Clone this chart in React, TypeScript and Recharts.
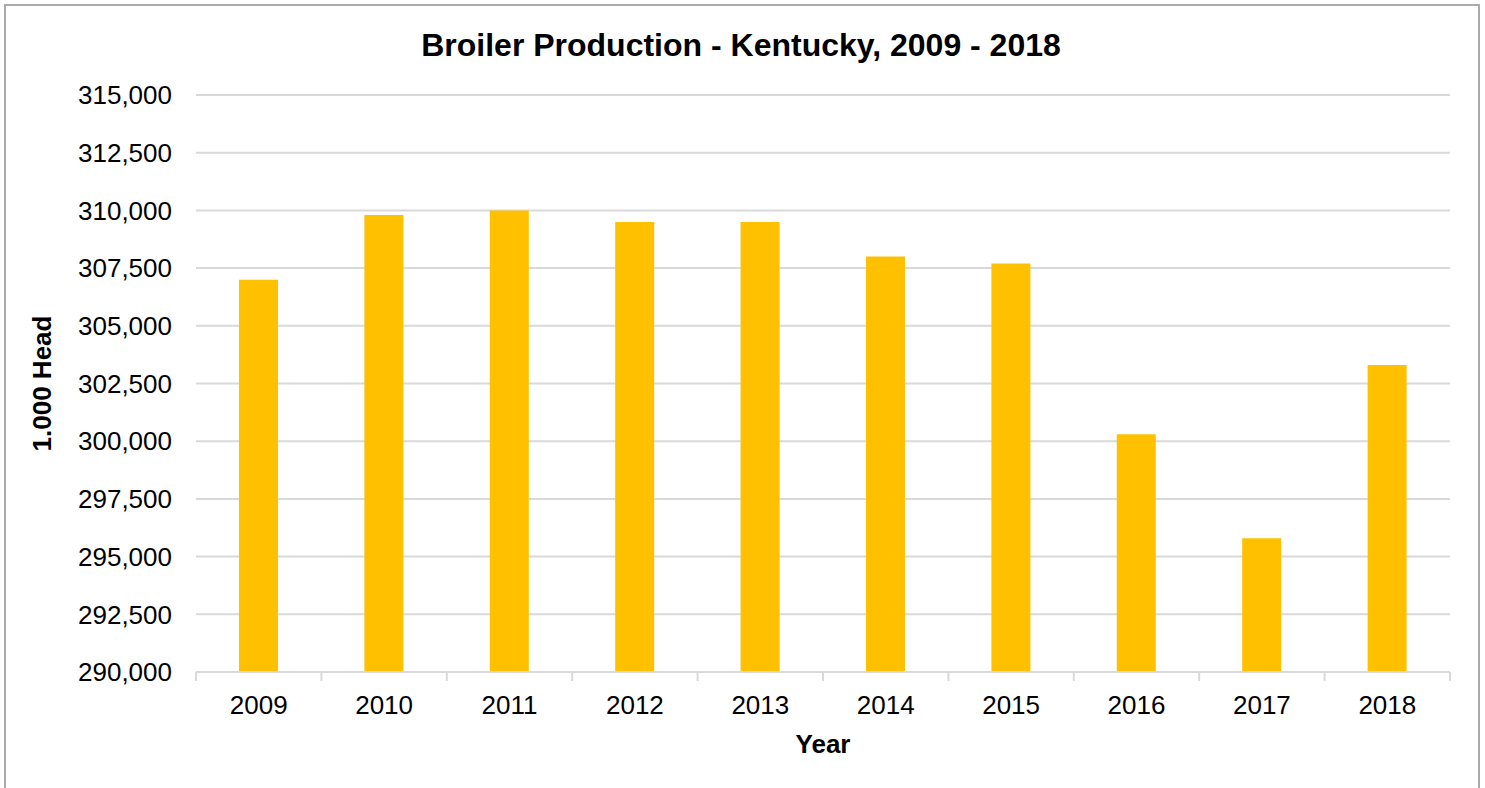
import { Bar, BarChart, CartesianGrid, XAxis, YAxis } from 'recharts';

const years = ['2009', '2010', '2011', '2012', '2013', '2014', '2015', '2016', '2017', '2018'];
const broilerHead = [307000, 309800, 310000, 309500, 309500, 308000, 307700, 300300, 295800, 303300];
const yTicks = [290000, 292500, 295000, 297500, 300000, 302500, 305000, 307500, 310000, 312500, 315000];

const data = years.map((year, i) => ({ year, head: broilerHead[i] }));

const W = 1485;
const H = 788;
const Y_AXIS_W = 196;
const MARGIN = { top: 95, right: 35, bottom: 56, left: 0 };
const BAND = (W - MARGIN.left - MARGIN.right - Y_AXIS_W) / years.length;
const FONT = '"Liberation Sans", Arial, sans-serif';
const GRID = '#d9d9d9';

function YearTick(props: any) {
  const { x, y, payload, index } = props;
  const half = payload?.offset || BAND / 2;
  return (
    <g>
      <line x1={x - half} x2={x - half} y1={y} y2={y + 9} stroke={GRID} strokeWidth={2} />
      {index === years.length - 1 && (
        <line x1={x + half} x2={x + half} y1={y} y2={y + 9} stroke={GRID} strokeWidth={2} />
      )}
      <text x={x} y={y + 42} textAnchor="middle" fontSize={26} fill="#000" fontFamily={FONT}>
        {payload.value}
      </text>
    </g>
  );
}

export default function App() {
  return (
    <div
      style={{
        position: 'absolute',
        left: 0,
        top: 0,
        width: W,
        height: H,
        overflow: 'hidden',
        background: '#fff',
        fontFamily: FONT,
      }}
    >
      <div
        style={{
          position: 'absolute',
          left: 4,
          top: 4,
          width: 1476,
          height: 820,
          boxSizing: 'border-box',
          border: '2px solid #ababab',
        }}
      />
      <svg width={W} height={70} style={{ position: 'absolute', left: 0, top: 0 }}>
        <text x={741} y={56} textAnchor="middle" fontSize={32} fontWeight="bold" fill="#000" fontFamily={FONT}>
          Broiler Production - Kentucky, 2009 - 2018
        </text>
      </svg>
      <div style={{ position: 'absolute', left: 0, top: 0 }}>
        <BarChart width={W} height={H} data={data} margin={MARGIN}>
          <CartesianGrid vertical={false} stroke={GRID} strokeWidth={2} />
          <XAxis
            dataKey="year"
            height={60}
            axisLine={{ stroke: GRID, strokeWidth: 2 }}
            tickLine={false}
            tickSize={0}
            tickMargin={0}
            tick={<YearTick />}
            interval={0}
            label={{
              content: ({ viewBox }: any) => (
                <text
                  x={viewBox.x + viewBox.width / 2}
                  y={viewBox.y + 81}
                  textAnchor="middle"
                  fontSize={26}
                  fontWeight="bold"
                  fill="#000"
                  fontFamily={FONT}
                >
                  Year
                </text>
              ),
            }}
          />
          <YAxis
            width={Y_AXIS_W}
            domain={[290000, 315000]}
            ticks={yTicks}
            interval={0}
            axisLine={false}
            tickLine={false}
            tickSize={0}
            tickMargin={24}
            tick={{ fontSize: 26, fill: '#000', fontFamily: FONT }}
            tickFormatter={(v: number) => v.toLocaleString('en-US')}
            label={{
              content: ({ viewBox }: any) => {
                const cx = viewBox.x + 51;
                const cy = viewBox.y + viewBox.height / 2;
                return (
                  <text
                    x={cx}
                    y={cy}
                    transform={`rotate(-90 ${cx} ${cy})`}
                    textAnchor="middle"
                    fontSize={26}
                    fontWeight="bold"
                    fill="#000"
                    fontFamily={FONT}
                  >
                    1.000 Head
                  </text>
                );
              },
            }}
          />
          <Bar dataKey="head" fill="#FFC000" barSize={39} isAnimationActive={false} />
        </BarChart>
      </div>
    </div>
  );
}
